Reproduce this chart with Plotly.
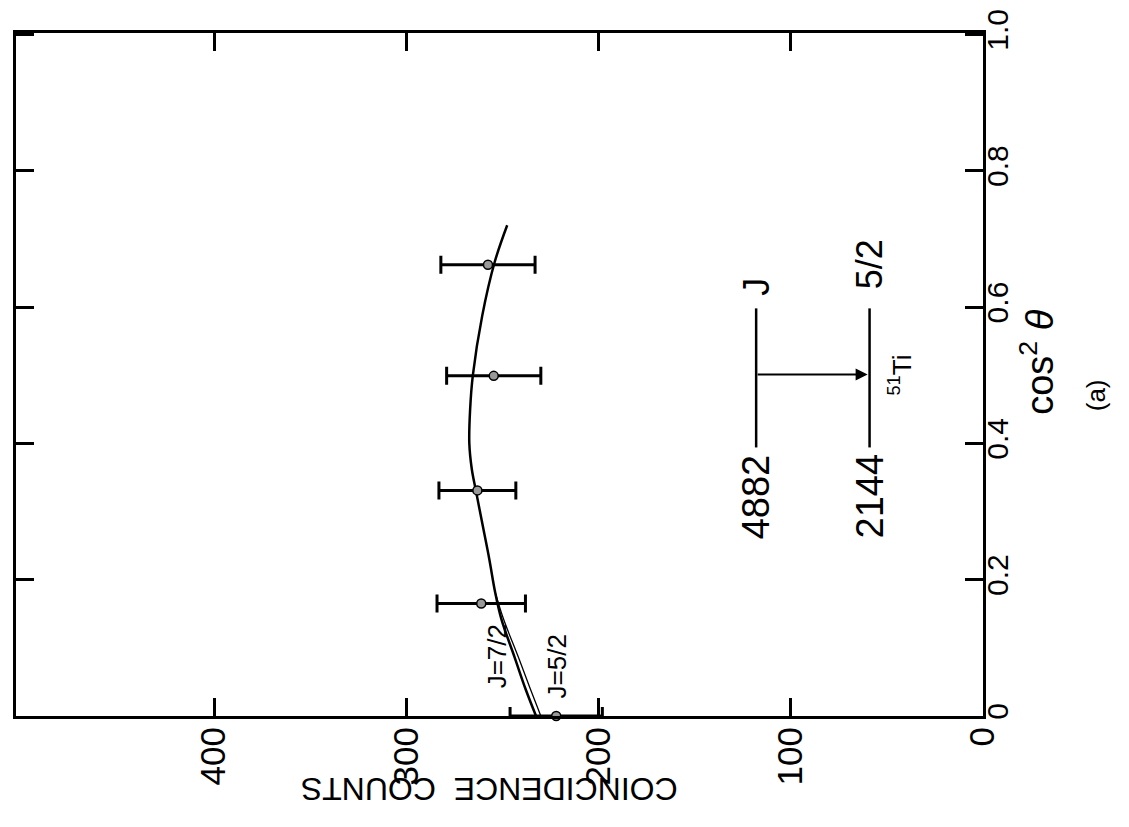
import plotly.graph_objects as go

# ---- data ----
cos2_data = [0.0, 0.165, 0.331, 0.499, 0.662]
counts_data = [222, 261, 263, 254.5, 257.5]
counts_err = [24, 23, 20, 24.5, 24.5]

cos2_fit72 = [0.0, 0.04, 0.085, 0.143, 0.182, 0.23, 0.279, 0.331, 0.362, 0.40,
              0.449, 0.499, 0.587, 0.666, 0.72]
counts_fit72 = [232.5, 238, 243.5, 250.6, 253.8, 256.8, 260.2, 263.8, 265.9, 267.2,
                266.8, 265.4, 260.5, 254.0, 247.5]

cos2_fit52 = [0.0, 0.04, 0.085, 0.143, 0.182]
counts_fit52 = [230, 235.5, 241.5, 249.5, 253.8]

count_ticks = [0, 100, 200, 300, 400]
count_ticklabels = ["0", "100", "200", "300", "400"]
cos2_ticks = [0, 0.2, 0.4, 0.6, 0.8, 1.0]
cos2_ticklabels = ["0", "0.2", "0.4", "0.6", "0.8", "1.0"]

FONT = "Liberation Sans"

fig = go.Figure()

fig.add_trace(go.Scatter(x=counts_fit52, y=cos2_fit52, mode="lines",
                         line=dict(color="black", width=1.3, shape="spline"),
                         showlegend=False, cliponaxis=False))
fig.add_trace(go.Scatter(x=counts_fit72, y=cos2_fit72, mode="lines",
                         line=dict(color="black", width=2.5, shape="spline",
                                   smoothing=1.0),
                         showlegend=False, cliponaxis=False))
fig.add_trace(go.Scatter(
    x=counts_data, y=cos2_data, mode="markers",
    marker=dict(symbol="circle", size=9, color="#999999",
                line=dict(color="black", width=1.5)),
    error_x=dict(type="data", array=counts_err, visible=True,
                 color="black", thickness=3, width=9),
    showlegend=False, cliponaxis=False))

# ---- energy level diagram (drawn in data coordinates) ----
upper_x, lower_x = 118, 59
lvl_lo, lvl_hi = 0.394, 0.598
fig.add_shape(type="line", xref="x", yref="y", x0=upper_x, x1=upper_x,
              y0=lvl_lo, y1=lvl_hi, line=dict(color="black", width=2.5))
fig.add_shape(type="line", xref="x", yref="y", x0=lower_x, x1=lower_x,
              y0=lvl_lo, y1=lvl_hi, line=dict(color="black", width=2.5))
fig.add_annotation(x=lower_x + 1, y=0.501, ax=upper_x, ay=0.501,
                   xref="x", yref="y", axref="x", ayref="y",
                   text="", showarrow=True, arrowhead=2, arrowsize=1.2,
                   arrowwidth=2, arrowcolor="black")

def txt(x, y, s, size, angle=-90, xref="x", yref="y"):
    fig.add_annotation(x=x, y=y, xref=xref, yref=yref, text=s, showarrow=False,
                       textangle=angle, font=dict(family=FONT, size=size, color="black"))

txt(upper_x, 0.630, "J", 36)
txt(upper_x, 0.321, "4882", 38)
txt(lower_x, 0.662, "5/2", 36)
txt(lower_x, 0.323, "2144", 38)
txt(43, 0.50, "<sup>51</sup>Ti", 26)
txt(253, 0.087, "J=7/2", 26)
txt(221.5, 0.073, "J=5/2", 26)

# axis titles / caption
txt(0.489, -0.137, "COINCIDENCE  COUNTS", 32, angle=180, xref="paper", yref="paper")
txt(1.082, 0.519, "cos<sup>2</sup> <i>θ</i>", 38, xref="paper", yref="paper")
txt(1.134, 0.469, "(a)", 26, xref="paper", yref="paper")

fig.update_layout(
    width=1129, height=827,
    margin=dict(l=8, r=154, t=25, b=119, autoexpand=False),
    paper_bgcolor="white", plot_bgcolor="white",
    font=dict(family=FONT, size=34, color="black"),
    xaxis=dict(range=[503, 0], tickvals=count_ticks, ticktext=count_ticklabels,
               tickangle=-90, ticks="inside", ticklen=18, tickwidth=3,
               tickcolor="black", showline=True, linewidth=3, linecolor="black",
               mirror="ticks", showgrid=False, zeroline=False, automargin=False,
               ticklabelstandoff=-6,
               tickfont=dict(family=FONT, size=35)),
    yaxis=dict(range=[0, 1.002], side="right", tickvals=cos2_ticks,
               ticktext=cos2_ticklabels, tickangle=-90, ticks="inside",
               ticklen=18, tickwidth=3, tickcolor="black", showline=True,
               linewidth=3, linecolor="black", mirror="ticks", showgrid=False,
               zeroline=False, automargin=False, ticklabelstandoff=-14,
               ticklabeloverflow="allow",
               tickfont=dict(family=FONT, size=30)),
)

fig.write_html("out.html")
